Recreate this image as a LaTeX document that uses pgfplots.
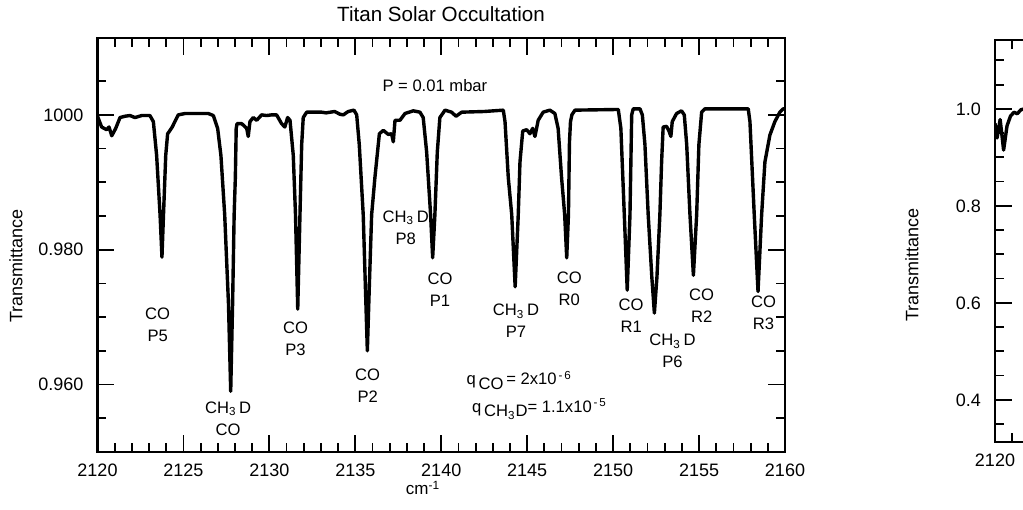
\documentclass[border=0pt]{standalone}
\usepackage{fontspec}
\setmainfont{Liberation Sans}
\usepackage{pgfplots}
\pgfplotsset{compat=1.18}

\pgfplotstableread{
nu T
2120.00 0.9998
2120.24 0.9982
2120.53 0.9978
2120.67 0.9982
2120.83 0.9969
2121.06 0.9980
2121.31 0.9996
2121.60 0.9998
2121.89 0.9999
2122.18 0.9996
2122.57 0.9999
2123.05 0.9999
2123.25 0.9990
2123.44 0.9940
2123.64 0.9852
2123.75 0.9789
2123.84 0.9852
2123.97 0.9940
2124.08 0.9972
2124.22 0.9977
2124.35 0.9982
2124.50 0.9990
2124.70 1.0000
2125.09 1.0002
2126.45 1.0002
2126.74 0.9999
2126.99 0.9980
2127.18 0.9940
2127.40 0.9852
2127.62 0.9720
2127.75 0.9590
2127.86 0.9720
2127.95 0.9852
2128.02 0.9907
2128.07 0.9980
2128.12 0.9987
2128.39 0.9987
2128.68 0.9980
2128.77 0.9968
2128.87 0.9990
2129.06 0.9996
2129.26 0.9992
2129.55 1.0000
2129.84 0.9999
2130.13 1.0000
2130.42 1.0000
2130.71 0.9987
2130.90 0.9982
2131.06 0.9996
2131.20 0.9992
2131.39 0.9940
2131.52 0.9852
2131.65 0.9712
2131.78 0.9852
2131.88 0.9956
2131.97 0.9996
2132.17 1.0004
2132.46 1.0004
2133.04 1.0004
2133.30 1.0003
2133.80 1.0005
2134.10 1.0001
2134.30 1.0000
2134.59 1.0005
2134.92 1.0007
2135.08 1.0000
2135.23 0.9956
2135.46 0.9852
2135.58 0.9750
2135.70 0.9650
2135.82 0.9750
2135.95 0.9852
2136.14 0.9907
2136.40 0.9972
2136.63 0.9977
2136.92 0.9971
2137.11 0.9972
2137.21 0.9960
2137.31 0.9992
2137.60 0.9992
2137.89 1.0002
2138.37 1.0006
2138.76 1.0004
2138.95 0.9996
2139.15 0.9945
2139.38 0.9852
2139.50 0.9788
2139.63 0.9852
2139.77 0.9945
2139.92 0.9996
2140.22 1.0007
2140.60 1.0004
2140.86 0.9998
2141.19 1.0004
2142.50 1.0005
2143.61 1.0007
2143.71 0.9990
2143.90 0.9907
2144.10 0.9852
2144.30 0.9745
2144.48 0.9852
2144.58 0.9930
2144.74 0.9976
2144.97 0.9978
2145.16 0.9972
2145.32 0.9980
2145.45 0.9968
2145.64 0.9992
2145.93 1.0004
2146.32 1.0007
2146.61 1.0002
2146.80 0.9980
2147.00 0.9907
2147.18 0.9852
2147.30 0.9788
2147.40 0.9852
2147.46 0.9960
2147.52 0.9990
2147.60 1.0000
2147.78 1.0007
2150.30 1.0008
2150.45 0.9980
2150.65 0.9852
2150.82 0.9740
2150.98 0.9852
2151.08 1.0000
2151.17 1.0009
2151.56 1.0009
2151.70 1.0000
2151.85 0.9956
2152.04 0.9852
2152.25 0.9760
2152.40 0.9706
2152.55 0.9760
2152.72 0.9852
2152.82 0.9930
2152.91 0.9982
2153.11 0.9983
2153.25 0.9976
2153.36 0.9968
2153.44 0.9990
2153.69 1.0002
2153.98 1.0006
2154.14 1.0000
2154.28 0.9956
2154.47 0.9852
2154.67 0.9762
2154.86 0.9852
2154.99 0.9956
2155.15 1.0004
2155.34 1.0009
2157.86 1.0009
2157.96 0.9990
2158.21 0.9852
2158.43 0.9738
2158.64 0.9852
2158.83 0.9930
2159.12 0.9970
2159.41 0.9990
2159.70 1.0004
2159.90 1.0009
2160.00 1.0009
}\specA

\pgfplotstableread{
nu T
2120.00 0.970
2120.12 0.940
2120.30 0.978
2120.50 0.915
2120.70 0.965
2120.90 0.985
2121.10 0.993
2121.30 0.990
2121.50 0.998
2121.70 1.000
}\specB

\begin{document}
\begin{tikzpicture}
\pgfplotsset{
  spec/.style={
    scale only axis, anchor=south west,
    axis line style={line width=1.1pt},
    every tick/.style={line width=0.9pt, black},
    tick align=inside,
    major tick length=8.5pt, minor tick length=4.5pt,
    tick label style={font=\fontsize{9}{10}\selectfont},
    /pgf/number format/assume math mode=true,
    xticklabel style={yshift=-2.5pt},
    yticklabel style={xshift=-3.5pt},
  }
}
\begin{axis}[spec, at={(48.75pt,28.5pt)}, width=343.75pt, height=207pt,
  xmin=2120, xmax=2160, ymin=0.9500, ymax=1.0114,
  xtick={2120,2125,2130,2135,2140,2145,2150,2155,2160},
  xticklabels={2120,2125,2130,2135,2140,2145,2150,2155,2160},
  minor xtick={2121,2122,2123,2124,2126,2127,2128,2129,2131,2132,2133,2134,2136,2137,2138,2139,2141,2142,2143,2144,2146,2147,2148,2149,2151,2152,2153,2154,2156,2157,2158,2159},
  ytick={0.96,0.98,1.0}, yticklabels={0.960,0.980,1000},
  minor ytick={0.955,0.965,0.970,0.975,0.985,0.990,0.995,1.005},
]
\addplot[black, line width=1.7pt, line join=round] table[x=nu,y=T]{\specA};
\begin{scope}[every node/.style={font=\fontsize{8.3}{11}\selectfont, align=center}]
\node at (axis cs:2123.50,0.9688) {CO\\P5};
\node at (axis cs:2127.60,0.9550) {CH\textsubscript{3}\,D\\CO};
\node at (axis cs:2131.52,0.9668) {CO\\P3};
\node at (axis cs:2135.72,0.9598) {CO\\P2};
\node at (axis cs:2137.93,0.9833) {CH\textsubscript{3}\,D\\P8};
\node at (axis cs:2139.93,0.9740) {CO\\P1};
\node at (axis cs:2144.35,0.9694) {CH\textsubscript{3}\,D\\P7};
\node at (axis cs:2147.45,0.9742) {CO\\R0};
\node at (axis cs:2151.05,0.9702) {CO\\R1};
\node at (axis cs:2153.45,0.9650) {CH\textsubscript{3}\,D\\P6};
\node at (axis cs:2155.15,0.9717) {CO\\R2};
\node at (axis cs:2158.75,0.9707) {CO\\R3};
\node at (axis cs:2144.54,0.96065) {q\raisebox{-0.5ex}{\,CO}\,= 2x10\textsuperscript{\,-\,6}};
\node at (axis cs:2145.72,0.9564) {q\raisebox{-0.5ex}{\,CH\textsubscript{3}D}= 1.1x10\textsuperscript{\,-\,5}};
\node at (axis cs:2139.63,1.0044) {P = 0.01 mbar};
\end{scope}
\end{axis}

\begin{axis}[spec, at={(497.5pt,33.5pt)}, width=343.75pt, height=201pt,
  xmin=2120, xmax=2160,  ymin=0.313, ymax=1.142,
  xtick={2120}, xticklabels={2120},
  minor xtick={2121,2122,2123,2124,2125,2126,2127,2128,2129},
  ytick={0.4,0.6,0.8,1.0}, yticklabels={0.4,0.6,0.8,1.0},
  minor ytick={0.35,0.45,0.5,0.55,0.65,0.7,0.75,0.85,0.9,0.95,1.05,1.1},
]
\addplot[black, line width=1.7pt, line join=round] table[x=nu,y=T]{\specB};
\end{axis}

\node[font=\fontsize{10.3}{12}\selectfont] at (220.5pt,247.5pt) {Titan Solar Occultation};
\node[font=\fontsize{8.5}{10}\selectfont] at (211.5pt,10.5pt) {cm\textsuperscript{-1}};
\node[font=\fontsize{9}{10}\selectfont, rotate=90] at (8pt,121.5pt) {Transmittance};
\node[font=\fontsize{9}{10}\selectfont, rotate=90] at (456pt,122pt) {Transmittance};

\pgfresetboundingbox
\path[use as bounding box] (0pt,0pt) rectangle (511.5pt,254.5pt);
\end{tikzpicture}
\end{document}
